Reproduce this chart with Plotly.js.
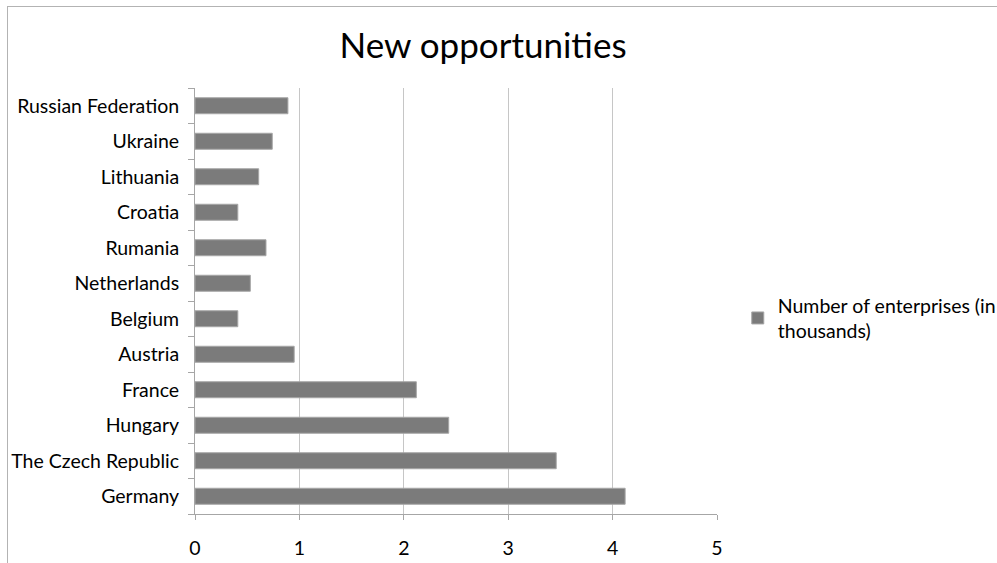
<!DOCTYPE html>
<html>
<head>
<meta charset="utf-8">
<script src="https://cdn.plot.ly/plotly-3.0.1.min.js"></script>
<style>
html,body{margin:0;padding:0;background:#fff;}
#frame{position:absolute;left:7px;top:6px;width:990px;height:557px;border-left:1px solid #b3b3b3;border-top:1px solid #b3b3b3;box-sizing:border-box;}
#chart{position:absolute;left:0;top:0;width:997px;height:563px;}
</style>
</head>
<body>
<div id="frame"></div>
<div id="chart"></div>
<script>
const categories = ["Germany","The Czech Republic","Hungary","France","Austria","Belgium","Netherlands","Rumania","Croatia","Lithuania","Ukraine","Russian Federation"];
const enterprises = [4.12, 3.46, 2.43, 2.12, 0.95, 0.41, 0.53, 0.68, 0.41, 0.61, 0.74, 0.89];
const seriesName = "Number of enterprises (in<br>thousands)";
const titleText = "New opportunities";
const xTicks = [0, 1, 2, 3, 4, 5];

const font = "Lato, 'Open Sans', sans-serif";

Plotly.newPlot('chart', [{
  type: 'bar',
  orientation: 'h',
  y: categories,
  x: enterprises,
  name: seriesName,
  showlegend: true,
  marker: {color: '#7b7b7b', line: {color: '#a6a6a6', width: 1}},
  width: 0.45
}], {
  width: 997, height: 563,
  paper_bgcolor: 'rgba(0,0,0,0)',
  plot_bgcolor: 'rgba(0,0,0,0)',
  margin: {l: 195, r: 280, t: 88, b: 49, autoexpand: false},
  font: {family: font, color: '#000', size: 19.5},
  title: {text: titleText, font: {family: font, size: 35, color: '#000'}, x: 0.4845, xanchor: 'center', xref: 'container', y: 0.918, yanchor: 'middle', automargin: false},
  xaxis: {
    range: [0, 5], tickvals: xTicks, ticktext: xTicks.map(String),
    showgrid: true, gridcolor: '#c6c6c6', gridwidth: 1,
    zeroline: false, showline: true, linecolor: '#a6a6a6', linewidth: 1,
    ticks: 'outside', ticklen: 5, tickcolor: '#a6a6a6',
    tickfont: {size: 19.5, family: font}, ticklabelstandoff: 12, fixedrange: true
  },
  yaxis: {
    type: 'category', categoryorder: 'array', categoryarray: categories,
    showline: true, linecolor: '#a6a6a6', linewidth: 1,
    ticks: 'outside', ticklen: 6, tickcolor: '#a6a6a6', tickson: 'boundaries',
    showgrid: false, zeroline: false,
    tickfont: {size: 19.5, family: font}, ticklabelstandoff: 11, fixedrange: true
  },
  legend: {
    xref: 'container', yref: 'container',
    x: 0.740, xanchor: 'left', y: 0.435, yanchor: 'middle',
    font: {size: 19.5, family: font}, itemwidth: 30, bgcolor: 'rgba(0,0,0,0)'
  },
  bargap: 0.55
}, {displayModeBar: false, staticPlot: true});
</script>
</body>
</html>
